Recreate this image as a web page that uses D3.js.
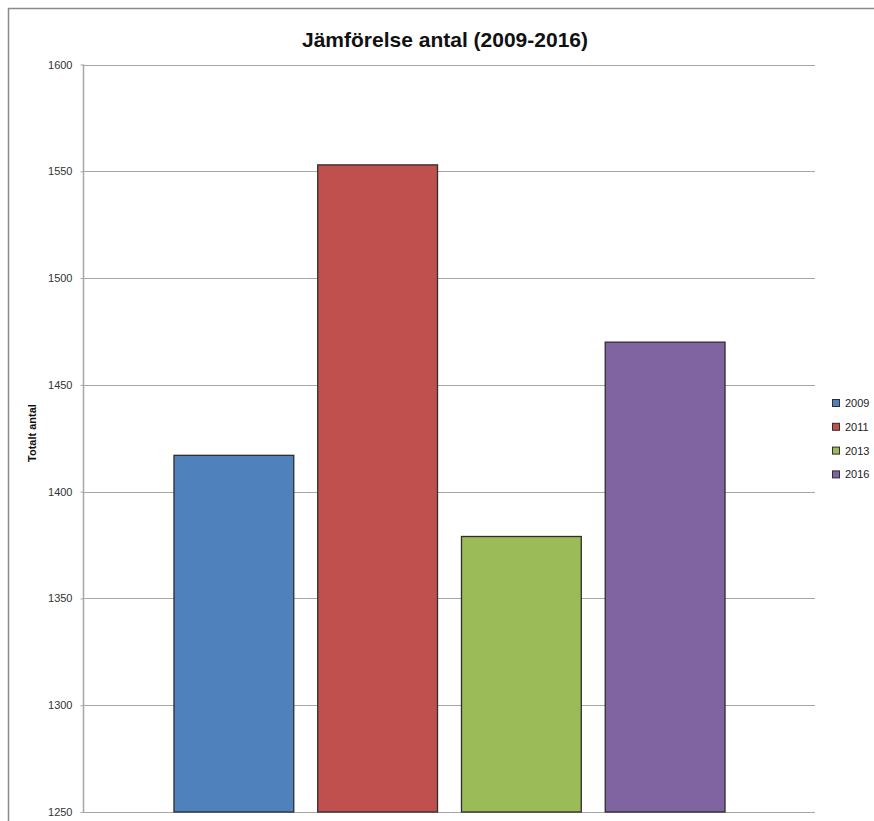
<!DOCTYPE html>
<html>
<head>
<meta charset="utf-8">
<script src="https://cdn.jsdelivr.net/npm/d3@7"></script>
<style>
  html, body { margin: 0; padding: 0; background: #fff; }
  svg { display: block; }
</style>
</head>
<body>
<svg id="chart" width="874" height="821"></svg>
<script>
// Data
const years = ["2009", "2011", "2013", "2016"];
const totals = [1417, 1553, 1379, 1470];
const colors = ["#4F81BD", "#C0504D", "#9BBB59", "#8064A2"];
const yTicks = [1250, 1300, 1350, 1400, 1450, 1500, 1550, 1600];
const titleText = "Jämförelse antal (2009-2016)";
const yLabel = "Totalt antal";

const svg = d3.select("#chart");
const W = 874, H = 821;
const plot = { left: 83, right: 815, top: 64.5, bottom: 812 };

// Outer frame (top and left edges visible)
svg.append("path")
  .attr("d", `M8.5,${H} L8.5,8.5 L${W},8.5`)
  .attr("fill", "none")
  .attr("stroke", "#8a8a8a")
  .attr("stroke-width", 1.5);

const y = d3.scaleLinear().domain([1250, 1600]).range([plot.bottom, plot.top]);
const x = d3.scaleBand()
  .domain(years)
  .range([162, 737])
  .paddingInner(0.1667)
  .paddingOuter(0.0833);

// Gridlines
svg.append("g")
  .selectAll("line")
  .data(yTicks)
  .join("line")
  .attr("x1", plot.left)
  .attr("x2", plot.right)
  .attr("y1", d => Math.round(y(d)) + 0.5)
  .attr("y2", d => Math.round(y(d)) + 0.5)
  .attr("stroke", "#a6a6a6")
  .attr("stroke-width", 1);

// Y axis
const yAxis = d3.axisLeft(y)
  .tickValues(yTicks)
  .tickSize(3)
  .tickPadding(8)
  .tickFormat(d3.format("d"));

const gy = svg.append("g")
  .attr("transform", `translate(${plot.left + 0.5},0)`)
  .call(yAxis);
gy.select(".domain").attr("stroke", "#a6a6a6").attr("stroke-width", 1.5)
  .attr("d", `M0,${plot.bottom}V${plot.top}`);
gy.selectAll(".tick line").attr("stroke", "#a6a6a6");
gy.selectAll(".tick text")
  .attr("fill", "#333")
  .style("font-family", "'Liberation Sans Narrow', 'Liberation Sans', Arial, sans-serif")
  .style("font-size", "11px");

// Bars
svg.append("g")
  .selectAll("rect")
  .data(years.map((yr, i) => ({ yr, v: totals[i], c: colors[i] })))
  .join("rect")
  .attr("x", d => x(d.yr))
  .attr("y", d => y(d.v))
  .attr("width", x.bandwidth())
  .attr("height", d => y(1250) - y(d.v))
  .attr("fill", d => d.c)
  .attr("stroke", "#2e2e2e")
  .attr("stroke-width", 1.3);

// Title
svg.append("text")
  .attr("x", 445)
  .attr("y", 47)
  .attr("text-anchor", "middle")
  .style("font-family", "'Liberation Sans Narrow', 'Liberation Sans', Arial, sans-serif")
  .style("font-weight", "bold")
  .style("font-size", "21px")
  .attr("fill", "#111")
  .text(titleText);

// Y axis title
svg.append("text")
  .attr("transform", "translate(36,433) rotate(-90)")
  .attr("text-anchor", "middle")
  .style("font-family", "'Liberation Sans Narrow', 'Liberation Sans', Arial, sans-serif")
  .style("font-weight", "bold")
  .style("font-size", "11px")
  .attr("fill", "#111")
  .text(yLabel);

// Legend
const legend = svg.append("g").attr("transform", "translate(832,399)");
const items = legend.selectAll("g")
  .data(years)
  .join("g")
  .attr("transform", (d, i) => `translate(0,${i * 23.8})`);
items.append("rect")
  .attr("x", 0.5).attr("y", 0.5)
  .attr("width", 7).attr("height", 7)
  .attr("fill", (d, i) => colors[i])
  .attr("stroke", "#2e2e2e")
  .attr("stroke-width", 1);
items.append("text")
  .attr("x", 13)
  .attr("y", 8)
  .style("font-family", "'Liberation Sans Narrow', 'Liberation Sans', Arial, sans-serif")
  .style("font-size", "11px")
  .attr("fill", "#222")
  .text(d => d);
</script>
</body>
</html>
